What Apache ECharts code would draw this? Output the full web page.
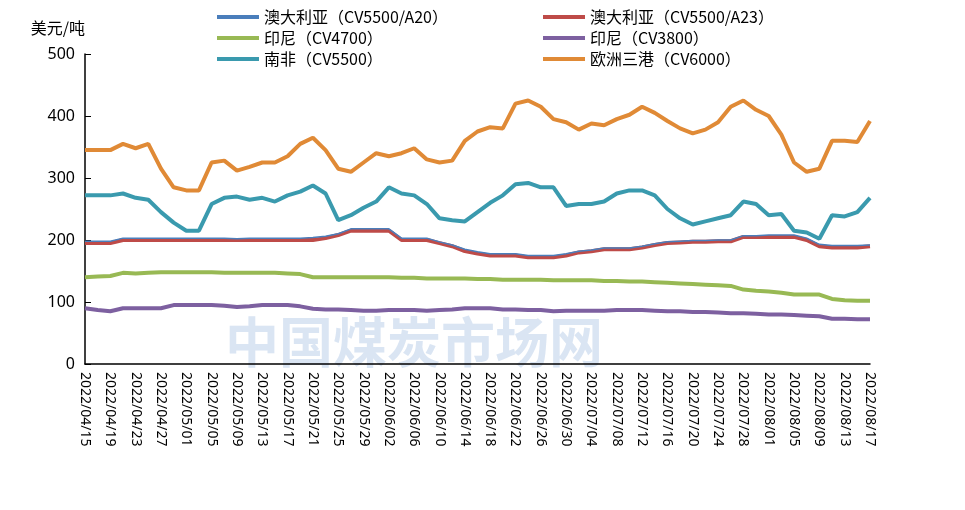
<!DOCTYPE html>
<html><head><meta charset="utf-8">
<script src="https://cdn.jsdelivr.net/npm/echarts@6/dist/echarts.min.js"></script>
<style>html,body{margin:0;padding:0;background:#fff}#c{width:965px;height:510px}</style>
</head><body><div id="c"></div>
<script>
var categories=[];(function(){var d=new Date(2022,3,15);for(var i=0;i<63;i++){var m=d.getMonth()+1,dd=d.getDate();categories.push('2022/'+(m<10?'0':'')+m+'/'+(dd<10?'0':'')+dd);d.setDate(d.getDate()+2);}})();
var euro=[345,345,345,355,348,355,315,285,280,280,325,328,312,318,325,325,335,355,365,345,315,310,325,340,335,340,348,330,325,328,360,375,382,380,420,425,415,395,390,378,388,385,395,402,415,405,392,380,372,378,390,415,425,410,400,370,325,310,315,360,360,358,392];
var sa=[272,272,272,275,268,265,245,228,215,215,258,268,270,265,268,262,272,278,288,275,232,240,252,262,285,275,272,258,235,232,230,245,260,272,290,292,285,285,255,258,258,262,275,280,280,272,250,235,225,230,235,240,262,258,240,242,215,212,202,240,238,245,268];
var a23=[195,195,195,200,200,200,200,200,200,200,200,200,200,200,200,200,200,200,200,203,208,215,215,215,215,200,200,200,195,190,182,178,175,175,175,172,172,172,175,180,182,185,185,185,188,192,195,196,197,197,198,198,205,205,205,205,205,200,190,188,188,188,190];
var a20=[198,198,198,203,203,203,203,203,203,203,203,203,202,203,203,203,203,203,204,206,210,218,218,218,218,203,203,203,197,192,185,181,178,178,178,175,175,175,178,182,184,187,187,187,190,194,197,198,199,199,200,200,207,207,208,208,208,203,193,191,191,191,192];
var indo47=[140,141,142,147,146,147,148,148,148,148,148,147,147,147,147,147,146,145,140,140,140,140,140,140,140,139,139,138,138,138,138,137,137,136,136,136,136,135,135,135,135,134,134,133,133,132,131,130,129,128,127,126,120,118,117,115,112,112,112,105,103,102,102];
var indo38=[90,87,85,90,90,90,90,95,95,95,95,94,92,93,95,95,95,93,89,88,88,87,86,86,87,87,87,86,87,88,90,90,90,88,88,87,87,85,86,86,86,86,87,87,87,86,85,85,84,84,83,82,82,81,80,80,79,78,77,73,73,72,72];
var names=['澳大利亚（CV5500/A20）','澳大利亚（CV5500/A23）','印尼（CV4700）','印尼（CV3800）','南非（CV5500）','欧洲三港（CV6000）'];
var colors=['#4a7ebb','#be4b48','#98b954','#7d60a0','#3a9aae','#e08a36'];
var datas=[a20,a23,indo47,indo38,sa,euro];
var series=names.map(function(n,i){return {name:n,type:'line',data:datas[i],symbol:'none',z:i==0?10:2,
 lineStyle:{width:i==0?1.5:4,color:colors[i]},itemStyle:{color:colors[i]}};});
var lt={fontSize:16,color:'#000',fontFamily:'Noto Sans CJK SC'};
var chart=echarts.init(document.getElementById('c'));
chart.setOption({
 animation:false,
 graphic:[{type:'text',left:225,top:315,style:{text:'中国煤炭市场网',fontSize:54,fill:'rgba(150,180,220,0.35)',fontWeight:'bold',fontFamily:'Noto Sans CJK SC'},z:-1}],
 legend:[{data:[names[0],names[2],names[4]],orient:'vertical',left:212,top:4,itemGap:5,itemWidth:42,itemHeight:4,textStyle:lt,icon:'rect'},
         {data:[names[1],names[3],names[5]],orient:'vertical',left:538,top:4,itemGap:5,itemWidth:42,itemHeight:4,textStyle:lt,icon:'rect'}],
 grid:{left:85,right:95,top:54,bottom:146},
 xAxis:{type:'category',data:categories,boundaryGap:false,
  axisLine:{lineStyle:{color:'#000',width:1.5}},axisTick:{show:false},
  axisLabel:{interval:1,rotate:-90,color:'#000',fontSize:14,fontFamily:'Noto Sans',margin:8}},
 yAxis:{type:'value',min:0,max:500,interval:100,name:'美元/吨',nameGap:18,
  nameTextStyle:{fontSize:16,color:'#000',align:'right',padding:[0,0,0,0],fontFamily:'Noto Sans CJK SC'},
  splitLine:{show:false},axisLine:{show:true,lineStyle:{color:'#000',width:1.5}},
  axisTick:{show:true,inside:true,length:6,lineStyle:{color:'#000'}},
  axisLabel:{color:'#000',fontSize:16,fontFamily:'Noto Sans',margin:10}},
 series:series
});
</script></body></html>
